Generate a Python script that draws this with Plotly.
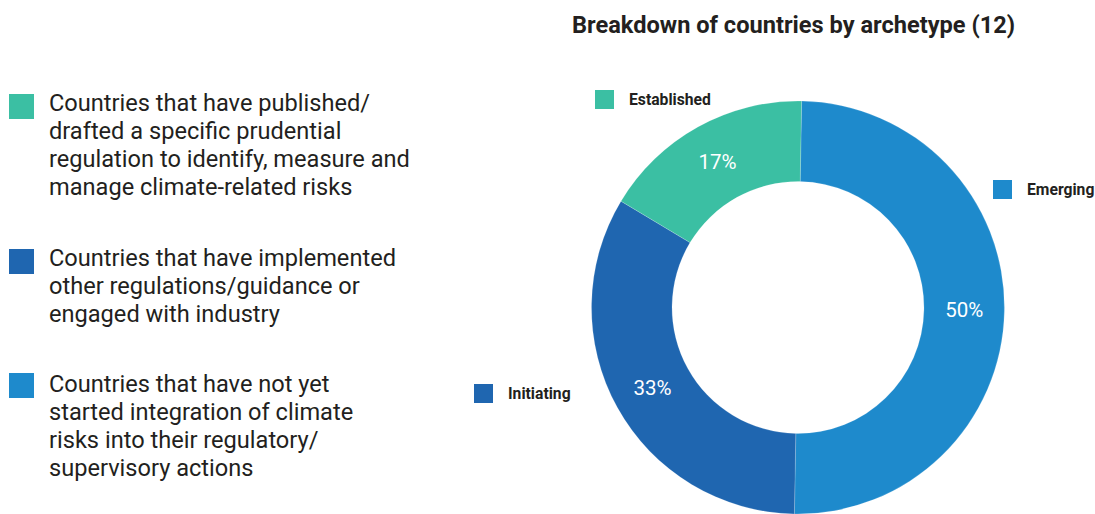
import plotly.graph_objects as go

W, H = 1095, 514

# ---- data ----
categories = ["Emerging", "Initiating", "Established"]
counts = [6, 4, 2]
slice_colors = ["#1E8ACC", "#1F66B0", "#3BBFA3"]
title_text = "Breakdown of countries by archetype (12)"

legend_order = ["Established", "Initiating", "Emerging"]
legend_lines = [
    ["Countries that have published/", "drafted a specific prudential",
     "regulation to identify, measure and", "manage climate-related risks"],
    ["Countries that have implemented", "other regulations/guidance or",
     "engaged with industry"],
    ["Countries that have not yet", "started integration of climate",
     "risks into their regulatory/", "supervisory actions"],
]

color_of = dict(zip(categories, slice_colors))
TEXT = "#231F20"
FONT = "Roboto"

fig = go.Figure()
fig.add_trace(go.Pie(
    labels=categories, values=counts, sort=False, direction="clockwise",
    rotation=1, hole=0.61,
    marker=dict(colors=slice_colors, line=dict(color="rgba(255,255,255,0.35)", width=0.5)),
    texttemplate="%{percent:.0%}", textposition="inside",
    insidetextorientation="horizontal",
    textfont=dict(family=FONT, size=20.5, color="white"),
    showlegend=False, hoverinfo="label+value+percent",
    domain=dict(x=[590 / W, 1006 / W], y=[0, 1 - 101 / H]),
))

def px_x(x):
    return x / W

def px_y(y):
    return 1 - y / H

shapes = []
annotations = []

# title
annotations.append(dict(x=px_x(793), y=px_y(25), xref="paper", yref="paper",
                        text="<b>" + title_text + "</b>", showarrow=False,
                        xanchor="center", yanchor="middle",
                        font=dict(family=FONT, size=23.6, color=TEXT)))

# left descriptive legend
square_tops = [94, 249, 373]
line_starts = [103, 258, 384]
for cat, lines, sq_top, y0 in zip(legend_order, legend_lines, square_tops, line_starts):
    shapes.append(dict(type="rect", xref="paper", yref="paper",
                       x0=px_x(9), x1=px_x(34), y0=px_y(sq_top), y1=px_y(sq_top + 25),
                       fillcolor=color_of[cat], line=dict(width=0)))
    for i, ln in enumerate(lines):
        annotations.append(dict(x=px_x(46.5), y=px_y(y0 + 28 * i), xref="paper", yref="paper",
                                text=ln, showarrow=False, xanchor="left", yanchor="middle",
                                font=dict(family=FONT, size=23.6, color=TEXT)))

# labels around the donut
label_pos = {"Established": (595, 90), "Emerging": (993, 180), "Initiating": (474, 384)}
for cat, (sx, sy) in label_pos.items():
    shapes.append(dict(type="rect", xref="paper", yref="paper",
                       x0=px_x(sx), x1=px_x(sx + 19), y0=px_y(sy), y1=px_y(sy + 19),
                       fillcolor=color_of[cat], line=dict(width=0)))
    annotations.append(dict(x=px_x(sx + 31.5), y=px_y(sy + 9.5), xref="paper", yref="paper",
                            text="<b>" + cat + "</b>", showarrow=False,
                            xanchor="left", yanchor="middle",
                            font=dict(family=FONT, size=15.7, color=TEXT)))

fig.update_layout(
    width=W, height=H, margin=dict(l=0, r=0, t=0, b=0),
    paper_bgcolor="white", plot_bgcolor="white",
    shapes=shapes, annotations=annotations,
)

fig.write_html("out.html", config={"displayModeBar": False})
